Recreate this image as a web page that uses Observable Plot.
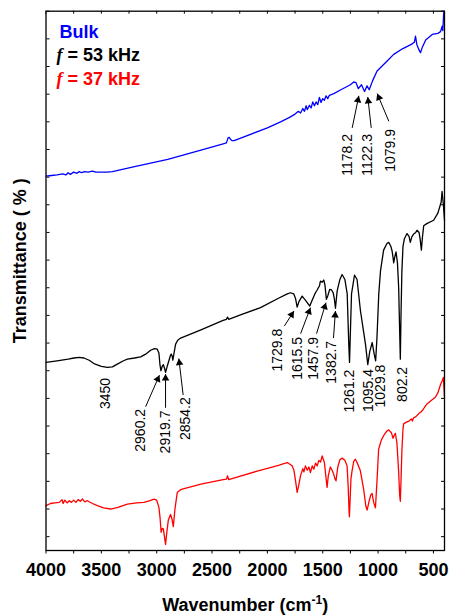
<!DOCTYPE html>
<html><head><meta charset="utf-8">
<script src="https://cdn.jsdelivr.net/npm/d3@7"></script>
<script src="https://cdn.jsdelivr.net/npm/@observablehq/plot@0.6"></script>
<style>body{margin:0;background:#fff;} svg{display:block}</style>
</head><body><div id="chart"></div>
<script>
// ---- Data (transmittance in arbitrary % units) ----
const bulkWn = [4000,3950,3900,3850,3820,3800,3780,3750,3720,3700,3680,3650,3620,3580,3550,3450,3400,3200,2900,2600,2400,2370,2355,2345,2335,2320,2300,2000,1881,1800,1750,1720,1700,1680,1665,1650,1640,1620,1605,1590,1575,1560,1545,1530,1515,1500,1485,1470,1455,1440,1400,1336,1250,1220,1200,1178,1150,1122,1100,1080,1050,1009,918,859,780,700,672,662,650,630,617,600,570,511,460,436,421,415,407,403,400];
const bulkT = [65.2,65.3,65.4,65.6,65.4,65.8,65.5,65.9,65.7,66.0,65.8,66.0,65.9,66.1,65.9,65.9,66.0,66.9,68.2,69.9,71.0,71.2,72.1,72.2,71.9,71.6,71.6,73.9,75.0,75.8,76.4,76.9,76.6,77.4,76.9,77.9,77.2,78.0,77.5,78.6,77.9,78.6,78.1,79.4,78.5,79.2,78.9,79.7,79.2,79.8,80.1,80.8,81.7,82.2,82.1,81.0,81.7,80.5,81.5,80.8,82.4,84.2,86.0,87.2,88.2,89.0,89.4,90.5,89.0,88.0,87.5,88.5,89.8,90.8,91.0,91.3,92.3,91.5,94.7,95.0,94.5];

const khz53Wn = [4000,3900,3800,3747,3700,3657,3610,3567,3500,3446,3400,3356,3300,3265,3200,3145,3100,3055,3020,2995,2980,2970,2962,2950,2940,2930,2920,2905,2890,2875,2868,2860,2854,2845,2829,2810,2784,2600,2400,2370,2360,2350,2243,2062,1900,1820,1792,1762,1745,1731,1715,1686,1650,1617,1590,1566,1550,1540,1530,1521,1505,1491,1480,1467,1455,1437,1420,1406,1395,1385,1370,1345,1325,1300,1279,1265,1258,1249,1240,1213,1190,1159,1114,1093,1075,1053,1035,1022,1010,994,978,950,920,904,885,874,865,859,850,838,825,814,806,799,793,785,775,763,739,720,709,695,679,660,648,630,620,609,600,588,560,498,460,430,422,410,400];
const khz53T = [31.5,31.8,32.1,32.3,32.4,32.3,31.9,31.3,30.8,30.6,30.7,31.2,31.8,32.1,32.3,32.5,33.0,33.7,34.0,33.9,33.2,31.0,30.0,30.8,31.1,30.5,29.7,30.8,31.8,32.8,33.0,32.6,31.9,33.0,34.8,35.5,35.9,37.4,39.1,39.3,39.7,39.3,40.1,41.4,43.1,43.9,44.1,43.9,43.0,41.5,42.5,43.5,42.6,41.7,43.0,44.1,44.6,45.0,45.3,46.2,46.0,46.4,45.5,42.9,43.5,44.7,44.6,44.1,43.0,41.3,44.4,46.5,47.4,46.5,43.9,34.9,31.5,37.8,43.9,47.3,46.5,40.8,34.8,31.1,33.5,35.1,33.0,31.8,36.0,43.8,48.1,51.8,53.0,53.2,52.5,51.7,50.5,49.5,50.5,51.5,49.5,45.0,38.0,32.1,40.0,48.0,52.5,53.8,54.8,54.3,53.2,54.2,54.7,55.0,55.4,55.0,53.8,51.8,54.0,56.2,56.6,57.2,58.5,60.5,62.4,60.0,57.2];

const khz37Wn = [4000,3960,3920,3880,3855,3845,3830,3810,3790,3770,3750,3730,3710,3690,3670,3650,3627,3580,3536,3480,3416,3350,3265,3180,3116,3060,3025,3000,2980,2970,2960,2950,2940,2930,2920,2910,2895,2875,2862,2850,2835,2814,2790,2769,2600,2400,2370,2360,2350,2100,1900,1852,1820,1790,1776,1760,1745,1731,1715,1701,1680,1670,1656,1640,1625,1611,1595,1580,1565,1550,1535,1520,1505,1495,1485,1475,1461,1450,1431,1415,1401,1390,1380,1365,1345,1325,1300,1280,1270,1262,1259,1252,1245,1235,1220,1205,1185,1160,1130,1110,1099,1080,1065,1054,1040,1024,1010,995,970,940,920,904,880,865,855,844,830,815,805,799,793,785,775,769,745,720,700,690,679,665,648,630,615,600,580,558,520,483,460,434,420,410,400];
const khz37T = [5.6,6.0,6.1,6.2,6.7,6.0,6.6,6.1,6.5,6.2,6.6,6.2,6.7,6.4,6.8,6.3,6.5,6.0,5.6,5.2,5.0,5.3,5.9,6.1,6.2,6.5,6.8,6.6,5.3,3.5,0.8,1.5,1.4,0.0,-1.4,0.5,3.0,4.0,3.2,1.8,5.0,8.0,8.4,8.6,9.5,10.3,10.4,11.0,10.3,11.8,12.9,13.2,13.4,13.0,12.8,12.0,10.0,8.0,9.5,11.0,12.3,11.7,12.8,12.0,12.6,11.6,12.8,12.2,13.3,12.8,13.8,13.5,14.6,14.0,13.4,11.5,8.9,11.0,12.6,12.0,11.3,10.5,10.1,12.5,13.9,14.2,13.8,12.8,9.0,4.5,3.6,7.0,10.5,11.9,13.6,14.0,13.2,11.9,8.5,5.5,4.8,6.5,7.6,7.8,6.2,5.2,10.0,15.8,17.5,18.6,19.1,19.3,18.8,17.8,18.3,18.7,17.0,12.0,7.5,6.4,10.0,15.5,19.5,20.4,20.7,20.9,21.3,20.9,21.5,21.6,21.9,22.3,22.5,22.8,23.4,24.0,24.6,25.2,26.0,27.6,28.2,28.8,25.2];

// Peak annotations (label text, label centre wavenumber, label top transmittance)
const annoText = ["1178.2","1122.3","1079.9","3450","2960.2","2919.7","2854.2","1729.8","1615.5","1457.9","1382.7","1261.2","1095.4","1029.8","802.2"];
const annoWn   = [1279,1093,888,3462,3146,2920,2740,1906,1728,1579,1421,1258,1085,975,780];
const annoT    = [72.8,72.8,73.7,28.7,23.1,22.8,25.2,37.6,36.1,36.1,35.4,30.2,30.3,31.1,30.7];

// Arrows (tail -> head)
const arrowFromWn = [1234,1062,903,3100,2920,2761,1846,1700,1556,1403];
const arrowFromT  = [73.9,73.9,75.1,23.5,23.3,25.6,38.1,36.7,36.7,35.9];
const arrowToWn   = [1174,1093,1008,2975,2920,2800,1760,1611,1471,1385];
const arrowToT    = [79.7,79.5,80.1,29.2,29.4,32.2,40.8,41.4,42.3,40.8];

// Legend
const legendText   = ["Bulk", "f = 53 kHz", "f = 37 kHz"];
const legendColors = ["#0000ff", "#000000", "#ff0000"];

// Axis ticks
const xTickValues = d3.range(500, 4001, 250);
const xLabelStep = 500;
const yTickValues = d3.range(0, 96, 5);

// ---- Build ----
const rows = (wn, t) => wn.map((w, i) => ({wn: w, t: t[i]})).filter(d => d.t !== undefined);
const bulk = rows(bulkWn, bulkT);
const k53 = rows(khz53Wn, khz53T);
const k37 = rows(khz37Wn, khz37T);
const annoIdx = d3.range(annoText.length);
const arrowIdx = d3.range(arrowFromWn.length);

const base = {
  width: 450, height: 615,
  marginLeft: 45.5, marginRight: 6, marginTop: 10.7, marginBottom: 65,
  x: {domain: [4000, 400]},
  y: {domain: [-2.5, 95]}
};

// first pass: obtain the scales so that filled arrowheads can be oriented on screen
const probe = Plot.plot({...base, marks: [Plot.frame()]});
const sx = probe.scale("x"), sy = probe.scale("y");
const headR = 2.8;
const headBack = 2 * Math.sqrt(headR * headR * Math.PI / (Math.sqrt(3) * 3));
const heads = arrowIdx.map(i => {
  const x1 = sx.apply(arrowFromWn[i]), y1 = sy.apply(arrowFromT[i]);
  const x2 = sx.apply(arrowToWn[i]), y2 = sy.apply(arrowToT[i]);
  const len = Math.hypot(x2 - x1, y2 - y1);
  const ux = (x2 - x1) / len, uy = (y2 - y1) / len;
  return {
    wn: sx.invert(x2 - ux * headBack),
    t: sy.invert(y2 - uy * headBack),
    angle: Math.atan2(ux, -uy) * 180 / Math.PI
  };
});

const legendDx = [13.5, 10.5, 10.5];
const legendDy = [14.5, 37.5, 61];
const noText = () => "";

const marks = [
  Plot.axisX({anchor: "bottom", ticks: xTickValues, tickSize: 3.5, tickPadding: 9,
    tickFormat: d => d % xLabelStep === 0 ? String(d) : "", fontSize: 18, fontWeight: "bold", label: null}),
  // inward ticks on the top, left and right sides
  Plot.axisX({anchor: "bottom", frameAnchor: "top", facetAnchor: null, ticks: xTickValues, tickSize: 3, tickFormat: noText, label: null}),
  Plot.axisY({anchor: "right", frameAnchor: "left", facetAnchor: null, ticks: yTickValues, tickSize: 3, tickFormat: noText, label: null}),
  Plot.axisY({anchor: "left", frameAnchor: "right", facetAnchor: null, ticks: yTickValues, tickSize: 3, tickFormat: noText, label: null}),
  Plot.line(bulk, {x: "wn", y: "t", stroke: legendColors[0], strokeWidth: 1.3}),
  Plot.line(k53, {x: "wn", y: "t", stroke: legendColors[1], strokeWidth: 1.3}),
  Plot.line(k37, {x: "wn", y: "t", stroke: legendColors[2], strokeWidth: 1.3}),
  Plot.text(annoIdx, {x: i => annoWn[i], y: i => annoT[i], text: i => annoText[i],
    rotate: -90, textAnchor: "end", lineAnchor: "middle", fontSize: 14, fill: "#000"}),
  Plot.link(arrowIdx, {x1: i => arrowFromWn[i], y1: i => arrowFromT[i], x2: i => arrowToWn[i], y2: i => arrowToT[i],
    stroke: "#000", strokeWidth: 1}),
  Plot.dot(heads, {x: "wn", y: "t", symbol: "triangle", r: headR, rotate: "angle", fill: "#000", stroke: "none"}),
  Plot.text(["Wavenumber (cm-1)"], {frameAnchor: "bottom", dy: 55, fontSize: 18, fontWeight: "bold",
    textAnchor: "middle", lineAnchor: "middle", fill: "#000"}),
  Plot.text(["Transmittance ( % )"], {frameAnchor: "left", dx: -25.5, dy: -20, rotate: -90, fontSize: 18, fontWeight: "bold",
    textAnchor: "middle", lineAnchor: "middle", fill: "#000"}),
  Plot.frame({stroke: "#000", strokeWidth: 1.3})
];
legendText.forEach((t, i) => {
  marks.push(Plot.text([t], {frameAnchor: "top-left", dx: legendDx[i], dy: legendDy[i], textAnchor: "start",
    lineAnchor: "top", fontSize: 18, fontWeight: "bold", fill: legendColors[i]}));
});

const chart = Plot.plot({
  ...base,
  style: {fontFamily: "'Liberation Sans', Arial, sans-serif", background: "#fff", color: "#000", overflow: "visible"},
  marks
});
document.getElementById("chart").appendChild(chart);

// rich text: italic f, superscript -1
d3.select(chart).selectAll("text").each(function() {
  const s = this.textContent;
  if (/^f = /.test(s)) {
    const el = d3.select(this);
    el.text("");
    el.append("tspan").attr("font-family", "'Liberation Serif', 'DejaVu Serif', serif").attr("font-style", "italic").text("f");
    el.append("tspan").text(s.slice(1));
  } else if (s === "Wavenumber (cm-1)") {
    const el = d3.select(this);
    el.text("");
    el.append("tspan").text("Wavenumber (cm");
    el.append("tspan").attr("font-size", 12).attr("dy", -7).text("-1");
    el.append("tspan").attr("dy", 7).text(")");
  }
});
</script>
</body></html>
